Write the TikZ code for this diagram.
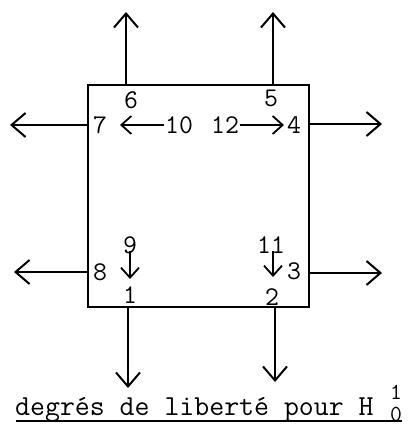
\documentclass[tikz,border=0pt]{standalone}
\usepackage{fontspec}
\usepackage{graphicx}
\usetikzlibrary{arrows.meta}
\newcommand{\numtxt}[1]{{\ttfamily\fontsize{20}{20}\selectfont\scalebox{1.35}{#1}}}
\newcommand{\captxt}[1]{{\ttfamily\fontsize{20}{20}\selectfont\scalebox{1.45}{#1}}}
\newcommand{\idxtxt}[1]{{\ttfamily\fontsize{20}{20}\selectfont\scalebox{1.15}{#1}}}
\begin{document}
\begin{tikzpicture}[x=1pt,y=-1pt,
  bigarrow/.style={line width=2pt,-{Straight Barb[length=14pt,width=24pt,line width=2pt]}},
  smallarrow/.style={line width=1.8pt,-{Straight Barb[length=10pt,width=18pt,line width=1.8pt]}},
  num/.style={inner sep=0pt},
  caption/.style={inner sep=0pt, anchor=base west},
  idx/.style={inner sep=0pt},
  boxline/.style={line width=2.4pt}]
\useasboundingbox (0,0) rectangle (410,430);
% square
\draw[boxline] (88,85) rectangle (309,307);
% edge points and free ends
\coordinate (t1) at (126,85);  \coordinate (t1e) at (126,12);
\coordinate (t2) at (273,85);  \coordinate (t2e) at (273,12);
\coordinate (b1) at (128,307); \coordinate (b1e) at (128,388);
\coordinate (b2) at (275,307); \coordinate (b2e) at (275,382);
\coordinate (l1) at (88,125);  \coordinate (l1e) at (10,125);
\coordinate (l2) at (88,272);  \coordinate (l2e) at (14,272);
\coordinate (r1) at (309,124); \coordinate (r1e) at (382,124);
\coordinate (r2) at (309,273); \coordinate (r2e) at (382,273);
\draw[bigarrow] (t1) -- (t1e);
\draw[bigarrow] (t2) -- (t2e);
\draw[bigarrow] (b1) -- (b1e);
\draw[bigarrow] (b2) -- (b2e);
\draw[bigarrow] (l1) -- (l1e);
\draw[bigarrow] (l2) -- (l2e);
\draw[bigarrow] (r1) -- (r1e);
\draw[bigarrow] (r2) -- (r2e);
% numbers
\node[num] (n6) at (131,100) {\numtxt{6}};
\node[num] (n5) at (271,98) {\numtxt{5}};
\node[num] (n7) at (100,125) {\numtxt{7}};
\node[num] (n10) at (179,125) {\numtxt{10}};
\node[num] (n12) at (225,125) {\numtxt{12}};
\node[num] (n4) at (294,125) {\numtxt{4}};
\node[num] (n9) at (130,245) {\numtxt{9}};
\node[num] (n11) at (271,245) {\numtxt{11}};
\node[num] (n8) at (100,272) {\numtxt{8}};
\node[num] (n3) at (294,271) {\numtxt{3}};
\node[num] (n1) at (130,295) {\numtxt{1}};
\node[num] (n2) at (272,297) {\numtxt{2}};
% inner arrows
\coordinate (a7) at (120,125);
\coordinate (a4) at (284,125);
\coordinate (a9) at (130,279);
\coordinate (a11) at (273,277);
\draw[smallarrow] ([xshift=-1pt]n10.west) -- (a7);
\draw[smallarrow] ([xshift=1pt]n12.east) -- (a4);
\draw[smallarrow] ([yshift=3pt]n9.south) -- (a9);
\draw[smallarrow] ([xshift=2pt,yshift=3pt]n11.south) -- (a11);
% caption
\node[caption] (cap) at (15,415) {\captxt{degrés de liberté pour H}};
\node[idx] (sup) at (396,392) {\idxtxt{1}};
\node[idx] (sub) at (396,414) {\idxtxt{0}};
\coordinate (u1) at (16,421);
\coordinate (u2) at (402,421);
\draw[line width=1.4pt] (u1) -- (u2);
\end{tikzpicture}
\end{document}
